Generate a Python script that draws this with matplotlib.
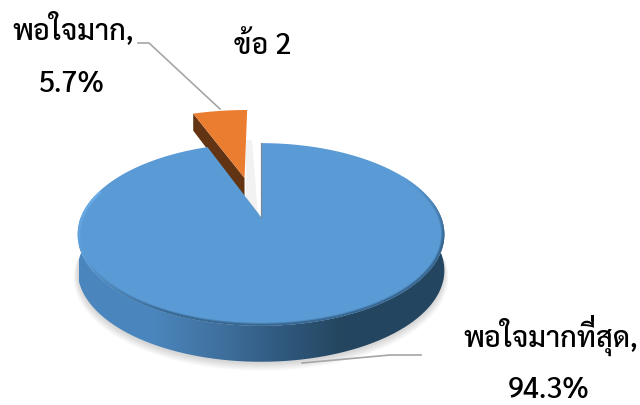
import numpy as np
import matplotlib
matplotlib.use('Agg')
import matplotlib.pyplot as plt
from matplotlib.collections import LineCollection
from matplotlib.colors import LinearSegmentedColormap
from matplotlib.font_manager import FontProperties
from matplotlib.patches import PathPatch
from matplotlib.path import Path
from matplotlib.textpath import TextPath, text_to_path
from matplotlib.transforms import Affine2D

labels = ['พอใจมากที่สุด,', 'พอใจมาก,']
percents = [94.3, 5.7]
pct_labels = ['94.3%', '5.7%']
title = 'ข้อ 2'

plt.rcParams['font.family'] = ['Sarabun', 'DejaVu Sans']

BLUE = '#5b9bd5'
ORANGE = '#ea7d2f'
BROWN = '#623413'
GREY = '#a6a6a6'

# pie lying on a plane, seen in perspective. everything is in pixels
CX, CY = 261, 217
SX, SY, K = 180, 88, 0.191
DEPTH = 36


def project(x, y):
    w = 1 + K * y
    return CX + SX * x / w, CY - SY * y / w


def slice_xy(a0, a1, r=1.0, ox=0.0, oy=0.0, apex=True):
    # angles in degrees clockwise from 12 o'clock
    t = np.radians(np.linspace(a0, a1, 200))
    x = r * np.sin(t) + ox
    y = r * np.cos(t) + oy
    if apex:
        x = np.r_[ox, x]
        y = np.r_[oy, y]
    return project(x, y)


fig = plt.figure(figsize=(6.4, 4.05), dpi=100)
ax = fig.add_axes([0, 0, 1, 1])

blue_end = percents[0] / 100 * 360

# soft shadow under the disc
for i in range(8):
    sx, sy = slice_xy(90, 270, r=1.0 + i * 0.003, apex=False)
    ax.fill(sx, sy + DEPTH + 2 + i * 0.6, color='#000000', alpha=0.02, lw=0, zorder=1)

# side wall, horizontal gradient clipped to the visible rim
rx, ry = slice_xy(80, 285, apex=False)
wall = Path(np.c_[np.r_[rx, rx[::-1]], np.r_[ry, ry[::-1] + DEPTH]])
wall_cmap = LinearSegmentedColormap.from_list('wall', [(0, '#4a86bd'), (0.2, '#4b86bd'), (0.38, '#40719f'),
                                                       (0.52, '#335d85'), (0.72, '#24465f'), (1, '#234560')])
im = ax.imshow(np.linspace(0, 1, 256)[None, :], cmap=wall_cmap, extent=[79, 445, 405, 0], aspect='auto', zorder=2)
im.set_clip_path(PathPatch(wall, transform=ax.transData))

ax.set_xlim(0, 640)
ax.set_ylim(405, 0)
ax.axis('off')

# top face
fx, fy = slice_xy(0, blue_end)
face = ax.fill(fx, fy, color=BLUE, lw=0, zorder=3)[0]
ax.plot(fx[:2], fy[:2], color='#7f7f7f', lw=0.9, alpha=0.7, zorder=3)

# bevel on the rim: dark on the right, bright on the lower left
ang = np.linspace(60, 288, 300)
bx, by = slice_xy(60, 288, r=0.995, apex=False)
segs = np.stack([np.c_[bx[:-1], by[:-1]], np.c_[bx[1:], by[1:]]], axis=1)
mid = ang[:-1]
bevel_cmap = LinearSegmentedColormap.from_list('bevel', [(0, '#5b9bd5'), (0.13, '#2f5a80'), (0.42, '#2f5a80'), (0.53, '#5b9bd5'),
                                                         (0.65, '#70b4f0'), (0.92, '#6cb0ec'), (1, '#5b9bd5')])
for lw, a in [(3.4, 0.35), (1.8, 0.7)]:
    lc = LineCollection(segs, colors=bevel_cmap((mid - 60) / 228), linewidths=lw, alpha=a, zorder=3)
    ax.add_collection(lc)
    lc.set_clip_path(face)

# faint shadow behind the exploded slice
ax.fill([246, 252, 258, 246], [140, 140, 214, 198], color='#000000', alpha=0.05, lw=0, zorder=3)

# exploded slice
off_x, off_y = -0.1, 0.484
R2 = 1.10
a0, a1 = blue_end, 360
ax_, ay_ = project(off_x, off_y)
ox1, oy1 = slice_xy(a0, a0, r=R2, ox=off_x, oy=off_y, apex=False)
side = [[ax_, ay_], [ox1[0], oy1[0]], [ox1[0], oy1[0] + 17], [ax_, ay_ + 20]]
ax.fill(*zip(*side), color=BROWN, lw=0, zorder=2.5)
ox, oy = slice_xy(a0, a1, r=R2, ox=off_x, oy=off_y)
ax.fill(ox, oy, color=ORANGE, lw=0, zorder=5)

# leader lines
ax.plot([138, 149, 220], [43, 43, 109], color=GREY, lw=1.2, zorder=6)
ax.plot([302, 390, 421], [363, 355, 355], color=GREY, lw=1.2, zorder=6)

fs = 20.7
wt = 500
ax.text(73, 30, labels[1], fontsize=fs, fontweight=wt, ha='center', va='center', color='black')
ax.text(72, 85, pct_labels[1], fontsize=fs, fontweight=wt, ha='center', va='center', color='black')
ax.text(263, 46, title, fontsize=fs, fontweight=wt, ha='center', va='center', color='black')
ax.text(463, 347, labels[0], fontsize=fs, fontweight=wt, ha='left', va='baseline', color='black')
ax.text(549, 391, pct_labels[0], fontsize=fs, fontweight=wt, ha='center', va='center', color='black')

# no shaping in matplotlib, so the tone mark sits inside the vowel. lift a copy of it
prop = FontProperties(family='Sarabun', weight=wt, size=fs)
w_pre = text_to_path.get_text_width_height_descent('พอใจมากท', prop, False)[0] * 100 / 72
tone = TextPath((0, 0), '\u0e48', prop=prop)
k = 100 / 72
tr = Affine2D().scale(k, -k).translate(463 + w_pre, 347 - 6)
ax.add_patch(PathPatch(tone, transform=tr + ax.transData, fc='black', lw=0, zorder=7))

fig.savefig('out.png', dpi=100)
